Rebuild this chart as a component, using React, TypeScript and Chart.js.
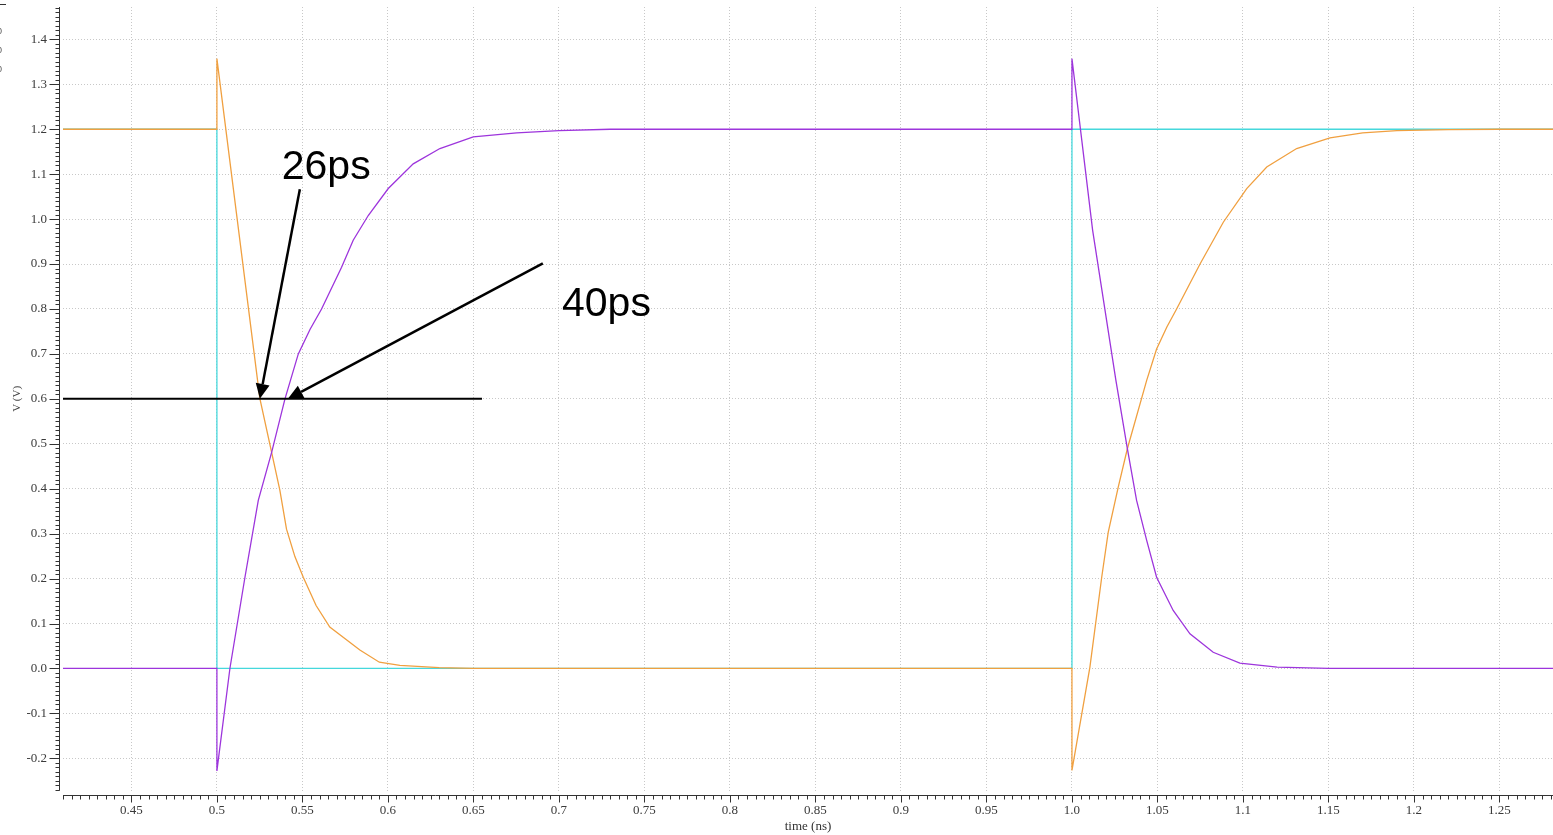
import React, { useEffect, useRef } from "react";
import { Chart, registerables } from "chart.js";

Chart.register(...registerables);

// ---- axis ticks ----
const xTickValues = [0.45, 0.5, 0.55, 0.6, 0.65, 0.7, 0.75, 0.8, 0.85, 0.9, 0.95, 1.0, 1.05, 1.1, 1.15, 1.2, 1.25];
const xTickLabels = ["0.45", "0.5", "0.55", "0.6", "0.65", "0.7", "0.75", "0.8", "0.85", "0.9", "0.95", "1.0", "1.05", "1.1", "1.15", "1.2", "1.25"];
const yTickValues = [-0.2, -0.1, 0, 0.1, 0.2, 0.3, 0.4, 0.5, 0.6, 0.7, 0.8, 0.9, 1.0, 1.1, 1.2, 1.3, 1.4];
const yTickLabels = ["-0.2", "-0.1", "0.0", "0.1", "0.2", "0.3", "0.4", "0.5", "0.6", "0.7", "0.8", "0.9", "1.0", "1.1", "1.2", "1.3", "1.4"];

// ---- input (cyan) ----
const inputTime = [0.41, 0.5, 0.5, 1.0, 1.0, 1.2813];
const inputVolt = [1.2, 1.2, 0, 0, 1.2, 1.2];

// ---- output A (orange) ----
const outATime = [0.41, 0.5, 0.5, 0.5251, 0.532, 0.5368, 0.5407, 0.5456, 0.5505, 0.558, 0.566, 0.5836, 0.595, 0.607, 0.63, 0.65, 1.0, 1.0, 1.0105, 1.0174, 1.0212, 1.0271, 1.0324, 1.0437, 1.0495, 1.0555, 1.0612, 1.0749, 1.0885, 1.1022, 1.1139, 1.1314, 1.1509, 1.17, 1.19, 1.22, 1.25, 1.2813];
const outAVolt = [1.2, 1.2, 1.357, 0.601, 0.481, 0.397, 0.31, 0.249, 0.203, 0.14, 0.092, 0.041, 0.014, 0.007, 0.002, 0, 0, -0.227, 0.003, 0.203, 0.303, 0.404, 0.489, 0.641, 0.711, 0.76, 0.8, 0.9, 0.993, 1.068, 1.116, 1.157, 1.181, 1.192, 1.197, 1.199, 1.2, 1.2];

// ---- output B (purple) ----
const outBTime = [0.41, 0.5, 0.5, 0.5076, 0.5164, 0.5242, 0.532, 0.5398, 0.5476, 0.5545, 0.5612, 0.5729, 0.5797, 0.5885, 0.6002, 0.6148, 0.6304, 0.6499, 0.6753, 0.7, 0.73, 1.0, 1.0, 1.0121, 1.0257, 1.0324, 1.0378, 1.0437, 1.0495, 1.0592, 1.069, 1.0826, 1.0982, 1.12, 1.15, 1.2813];
const outBVolt = [0, 0, -0.228, 0, 0.203, 0.374, 0.481, 0.6, 0.7, 0.755, 0.8, 0.893, 0.953, 1.008, 1.068, 1.123, 1.157, 1.183, 1.192, 1.197, 1.2, 1.2, 1.357, 0.975, 0.641, 0.489, 0.374, 0.285, 0.203, 0.129, 0.077, 0.036, 0.012, 0.003, 0, 0];

// ---- 50% threshold line ----
const thresholdTime = [0.41, 0.655];
const thresholdVolt = [0.6, 0.6];

// ---- annotations (data coordinates) ----
const annotationTexts = ["26ps", "40ps"];
const annotationTextTime = [0.5379, 0.7018];
const annotationTextVolt = [1.0886, 0.7844];
const arrowTailTime = [0.5485, 0.6906];
const arrowTailVolt = [1.0663, 0.9017];
const arrowTipTime = [0.5251, 0.5415];
const arrowTipVolt = [0.6, 0.6];

const zip = (xs: number[], ys: number[]) => xs.map((x, i) => ({ x, y: ys[i] }));

const SERIF = "'Liberation Serif', 'Times New Roman', serif";

const axesPlugin = {
  id: "customAxes",
  afterDatasetsDraw(chart: any) {
    const { ctx, scales } = chart;
    const xs = scales.x;
    const ys = scales.y;
    ctx.save();
    ctx.strokeStyle = "#000";
    ctx.fillStyle = "#000";
    for (let i = 0; i < arrowTailTime.length; i++) {
      const x1 = xs.getPixelForValue(arrowTailTime[i]);
      const y1 = ys.getPixelForValue(arrowTailVolt[i]);
      const x2 = xs.getPixelForValue(arrowTipTime[i]);
      const y2 = ys.getPixelForValue(arrowTipVolt[i]);
      const ang = Math.atan2(y2 - y1, x2 - x1);
      const headLen = 15;
      const headHalf = 7;
      const bx = x2 - headLen * Math.cos(ang);
      const by = y2 - headLen * Math.sin(ang);
      ctx.lineWidth = 2.5;
      ctx.beginPath();
      ctx.moveTo(x1, y1);
      ctx.lineTo(bx, by);
      ctx.stroke();
      ctx.beginPath();
      ctx.moveTo(x2, y2);
      ctx.lineTo(bx + headHalf * Math.sin(ang), by - headHalf * Math.cos(ang));
      ctx.lineTo(bx - headHalf * Math.sin(ang), by + headHalf * Math.cos(ang));
      ctx.closePath();
      ctx.fill();
    }
    ctx.font = "41px 'Liberation Sans', Arial, sans-serif";
    ctx.textAlign = "left";
    ctx.textBaseline = "alphabetic";
    for (let i = 0; i < annotationTexts.length; i++) {
      ctx.fillText(
        annotationTexts[i],
        xs.getPixelForValue(annotationTextTime[i]),
        ys.getPixelForValue(annotationTextVolt[i])
      );
    }
    ctx.restore();
  },
  afterDraw(chart: any) {
    const { ctx, chartArea, scales } = chart;
    const xs = scales.x;
    const ys = scales.y;
    ctx.save();
    ctx.strokeStyle = "#333";
    ctx.lineWidth = 1;
    const ax = Math.round(chartArea.left - 4) + 0.5;
    ctx.beginPath();
    ctx.moveTo(ax, chartArea.top);
    ctx.lineTo(ax, chartArea.bottom);
    ctx.stroke();
    const yStart = Math.ceil(ys.min * 100 - 1e-6);
    const yEnd = Math.floor(ys.max * 100 + 1e-6);
    for (let i = yStart; i <= yEnd; i++) {
      const py = Math.round(ys.getPixelForValue(i / 100)) + 0.5;
      const major = i % 10 === 0;
      ctx.beginPath();
      ctx.moveTo(ax, py);
      ctx.lineTo(ax - (major ? 10 : 4), py);
      ctx.stroke();
    }
    const ay = Math.round(chartArea.bottom + 4) + 0.5;
    ctx.beginPath();
    ctx.moveTo(chartArea.left, ay);
    ctx.lineTo(chartArea.right, ay);
    ctx.stroke();
    const xStart = Math.ceil(xs.min * 200 - 1e-6);
    const xEnd = Math.floor(xs.max * 200 + 1e-6);
    for (let i = xStart; i <= xEnd; i++) {
      const px = Math.round(xs.getPixelForValue(i / 200)) + 0.5;
      const major = i % 10 === 0;
      ctx.beginPath();
      ctx.moveTo(px, ay);
      ctx.lineTo(px, ay + (major ? 7 : 4));
      ctx.stroke();
    }
    // cropped legend remnants at the top-left edge
    ctx.fillStyle = "#555";
    ctx.font = "9px 'Liberation Sans', sans-serif";
    ctx.textBaseline = "middle";
    ctx.textAlign = "left";
    ctx.fillText("0", -3, 32);
    ctx.fillText("0", -3, 51);
    ctx.fillText("0", -3, 70);
    ctx.beginPath();
    ctx.moveTo(0, 4.5);
    ctx.lineTo(6, 4.5);
    ctx.stroke();
    ctx.restore();
  },
};

export default function App() {
  const canvasRef = useRef<HTMLCanvasElement | null>(null);

  useEffect(() => {
    if (!canvasRef.current) return;
    const chart = new Chart(canvasRef.current, {
      type: "line",
      data: {
        datasets: [
          {
            label: "threshold",
            data: zip(thresholdTime, thresholdVolt),
            borderColor: "#000000",
            borderWidth: 2,
            pointRadius: 0,
            tension: 0,
          },
          {
            label: "out B",
            data: zip(outBTime, outBVolt),
            borderColor: "#9d35dc",
            borderWidth: 1.3,
            pointRadius: 0,
            tension: 0,
          },
          {
            label: "out A",
            data: zip(outATime, outAVolt),
            borderColor: "#f0a040",
            borderWidth: 1.3,
            pointRadius: 0,
            tension: 0,
          },
          {
            label: "in",
            data: zip(inputTime, inputVolt),
            borderColor: "#45d8dc",
            borderWidth: 1.3,
            pointRadius: 0,
            tension: 0,
          },
        ],
      },
      options: {
        responsive: false,
        animation: false,
        devicePixelRatio: 1,
        layout: { padding: { top: 7, right: 0, left: 0, bottom: 0 } },
        plugins: {
          legend: { display: false },
          tooltip: { enabled: false },
        },
        scales: {
          x: {
            type: "linear",
            min: 0.41,
            max: 1.2813,
            afterBuildTicks: (scale: any) => {
              scale.ticks = xTickValues.map((v) => ({ value: v }));
            },
            afterFit: (scale: any) => {
              scale.height = 44.3;
              scale.paddingLeft = 0;
              scale.paddingRight = 0;
            },
            grid: {
              drawTicks: false,
              color: "#c8c8c8",
              lineWidth: 1,
            },
            border: { display: false, dash: [1, 2] },
            ticks: {
              autoSkip: false,
              maxRotation: 0,
              padding: 12,
              color: "#3a3a3a",
              font: { family: SERIF, size: 13 },
              callback: (_v: any, i: number) => xTickLabels[i],
            },
            title: {
              display: true,
              text: "time (ns)",
              color: "#333",
              font: { family: SERIF, size: 13 },
              padding: { top: 0, bottom: 1 },
            },
          },
          y: {
            type: "linear",
            min: -0.272,
            max: 1.472,
            afterBuildTicks: (scale: any) => {
              scale.ticks = yTickValues.map((v) => ({ value: v }));
            },
            afterFit: (scale: any) => {
              scale.width = 63;
              scale.paddingTop = 0;
              scale.paddingBottom = 0;
            },
            grid: {
              drawTicks: false,
              color: "#c8c8c8",
              lineWidth: 1,
            },
            border: { display: false, dash: [1, 2] },
            ticks: {
              autoSkip: false,
              padding: 16,
              color: "#3a3a3a",
              font: { family: SERIF, size: 13 },
              callback: (_v: any, i: number) => yTickLabels[i],
            },
            title: {
              display: true,
              text: "V (V)",
              color: "#444",
              font: { family: SERIF, size: 11 },
              padding: { top: 11, bottom: 0 },
            },
          },
        },
      },
      plugins: [axesPlugin],
    } as any);
    return () => chart.destroy();
  }, []);

  return (
    <div style={{ position: "fixed", left: 0, top: 0, width: 1553, height: 835, background: "#fff" }}>
      <canvas ref={canvasRef} width={1553} height={835} style={{ display: "block" }} />
    </div>
  );
}
